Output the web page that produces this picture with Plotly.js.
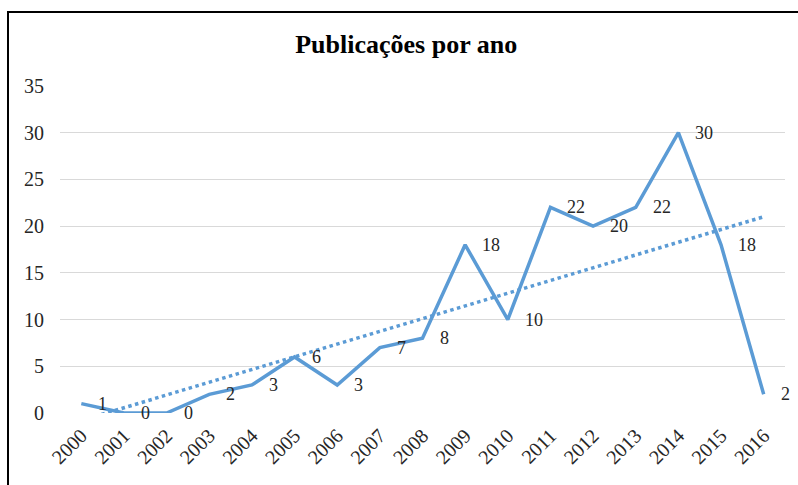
<!DOCTYPE html>
<html>
<head>
<meta charset="utf-8">
<script src="https://cdn.plot.ly/plotly-3.0.1.min.js"></script>
<style>
  html, body { margin: 0; padding: 0; background: #fff; }
  #wrap { position: relative; width: 798px; height: 485px; overflow: hidden; }
  #chart { position: absolute; left: 0; top: 0; width: 798px; height: 485px; }
  #frame { position: absolute; left: 7px; top: 11px; width: 900px; height: 600px;
           border-left: 2px solid #000; border-top: 2px solid #000; pointer-events: none; }
</style>
</head>
<body>
<div id="wrap">
  <div id="chart"></div>
  <div id="frame"></div>
</div>
<script>
// Data
const years = [2000, 2001, 2002, 2003, 2004, 2005, 2006, 2007, 2008,
               2009, 2010, 2011, 2012, 2013, 2014, 2015, 2016];
const publications = [1, 0, 0, 2, 3, 6, 3, 7, 8, 18, 10, 22, 20, 22, 30, 18, 2];
// Linear trendline endpoints (as drawn in the reference)
const trendYears = [2000, 2016];
const trendValues = [-0.8, 21.0];
const yTicks = [0, 5, 10, 15, 20, 25, 30, 35];

const blue = 'rgb(91,155,213)';
const serif = '"Liberation Serif", "Times New Roman", serif';

const traces = [
  {
    x: years, y: publications, type: 'scatter', mode: 'lines',
    line: { color: blue, width: 3.5 }, hoverinfo: 'none', showlegend: false
  },
  {
    x: trendYears, y: trendValues, type: 'scatter', mode: 'lines',
    line: { color: blue, width: 3.5, dash: 'dot' }, hoverinfo: 'none', showlegend: false
  }
];

const annotations = years.map((yr, i) => ({
  x: yr, y: publications[i], xref: 'x', yref: 'y',
  text: String(publications[i]), showarrow: false,
  xanchor: 'left', yanchor: 'middle', xshift: 15,
  font: { family: serif, size: 18, color: '#262626' }
}));

const layout = {
  width: 798, height: 485,
  margin: { l: 60, r: 13, t: 86, b: 72 },
  paper_bgcolor: 'rgba(0,0,0,0)', plot_bgcolor: '#fff',
  title: {
    text: '<b>Publicações por ano</b>',
    font: { family: serif, size: 26, color: '#000' },
    x: 0.509, xanchor: 'center', y: 0.91, yanchor: 'middle'
  },
  xaxis: {
    type: 'linear', range: [1999.5, 2016.5],
    tickmode: 'array', tickvals: years, ticktext: years.map(String),
    tickangle: -45, showgrid: false, zeroline: false, showline: false,
    ticks: '', ticklabelstandoff: 6,
    tickfont: { family: serif, size: 20, color: '#262626' }
  },
  yaxis: {
    range: [0, 35], tickmode: 'array', tickvals: yTicks,
    showgrid: true, gridcolor: '#d9d9d9', gridwidth: 1,
    zeroline: false, showline: false, ticks: '', ticklabelstandoff: 15,
    tickfont: { family: serif, size: 20, color: '#262626' }
  },
  annotations: annotations
};

Plotly.newPlot('chart', traces, layout, { staticPlot: true, displayModeBar: false });
</script>
</body>
</html>
